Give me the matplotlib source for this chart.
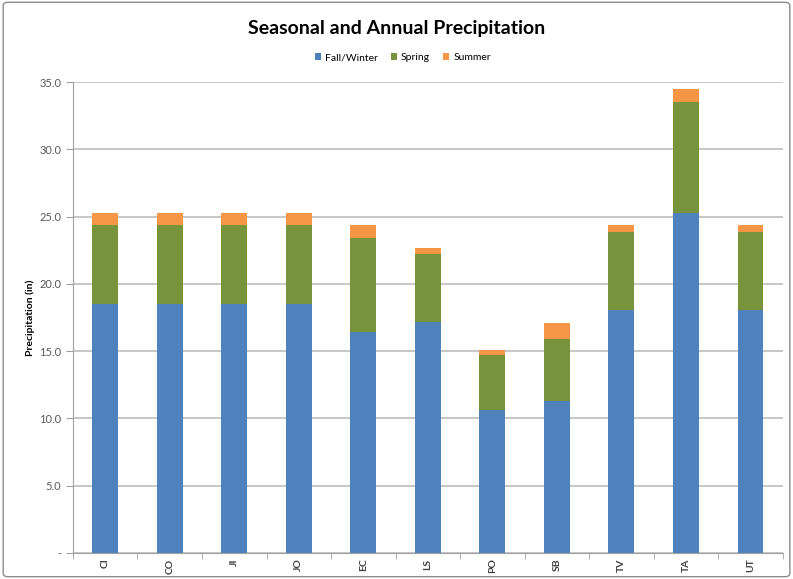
import numpy as np
import matplotlib.pyplot as plt
from matplotlib.patches import FancyBboxPatch

plt.rcParams['font.family'] = ['Lato', 'DejaVu Sans']

sites = ['CI', 'CO', 'JI', 'JO', 'EC', 'LS', 'PO', 'SB', 'TV', 'TA', 'UT']
fall_winter = [18.5, 18.5, 18.5, 18.5, 16.4, 17.2, 10.6, 11.3, 18.1, 25.3, 18.1]
spring = [5.9, 5.9, 5.9, 5.9, 7.0, 5.0, 4.1, 4.6, 5.8, 8.2, 5.8]
summer = [0.9, 0.9, 0.9, 0.9, 1.0, 0.5, 0.4, 1.2, 0.5, 1.0, 0.5]
yticks = [0, 5, 10, 15, 20, 25, 30, 35]
ylabels = ['-', '5.0', '10.0', '15.0', '20.0', '25.0', '30.0', '35.0']

blue = '#4F81BD'
green = '#77933C'
orange = '#F79646'

fig = plt.figure(figsize=[7.93, 5.79], dpi=100)
ax = fig.add_axes([0.092, 0.045, 0.895, 0.813])

x = np.arange(len(sites))
fw = np.array(fall_winter)
sp = np.array(spring)
su = np.array(summer)
ax.bar(x, fw, width=0.4, color=blue, label='Fall/Winter', zorder=3)
ax.bar(x, sp, width=0.4, bottom=fw, color=green, label='Spring', zorder=3)
ax.bar(x, su, width=0.4, bottom=fw + sp, color=orange, label='Summer', zorder=3)

ax.set_xlim(-0.5, len(sites) - 0.5)
ax.set_ylim(0, 35)
ax.set_yticks(yticks)
ax.set_yticklabels(ylabels, fontsize=8, color='#595959')
ax.set_xticks(x)
ax.set_xticklabels(sites, rotation=90, fontsize=7.5, fontweight='bold', color='#404040')
ax.set_xticks(np.arange(-0.5, len(sites)), minor=True)
ax.tick_params(axis='x', which='major', length=0, pad=4)
ax.tick_params(axis='x', which='minor', length=4, color='#A0A0A0')
ax.tick_params(axis='y', length=5, color='#A0A0A0')
ax.yaxis.grid(True, color='#BEBEBE', linewidth=1.2, zorder=0)
for s in ['top', 'right']:
    ax.spines[s].set_visible(False)
for s in ['left', 'bottom']:
    ax.spines[s].set_color('#A0A0A0')
ax.set_ylabel('Precipitation (in)', fontsize=7.5, fontweight='bold', labelpad=3)

fig.text(0.5, 0.951, 'Seasonal and Annual Precipitation', ha='center', va='center',
         fontsize=14, fontweight='bold')
ax.legend(loc='center', bbox_to_anchor=(0.508, 0.9, 0, 0), bbox_transform=fig.transFigure,
          ncol=3, frameon=False, fontsize=7.5, handlelength=0.6, handleheight=0.6,
          handletextpad=0.4, columnspacing=1.2)

fig.patches.append(FancyBboxPatch((0.004, 0.004), 0.992, 0.992, boxstyle='round,pad=0,rounding_size=0.006',
                                  transform=fig.transFigure, fill=False, edgecolor='#8C8C8C', linewidth=1))

fig.savefig('out.png', dpi=100)
